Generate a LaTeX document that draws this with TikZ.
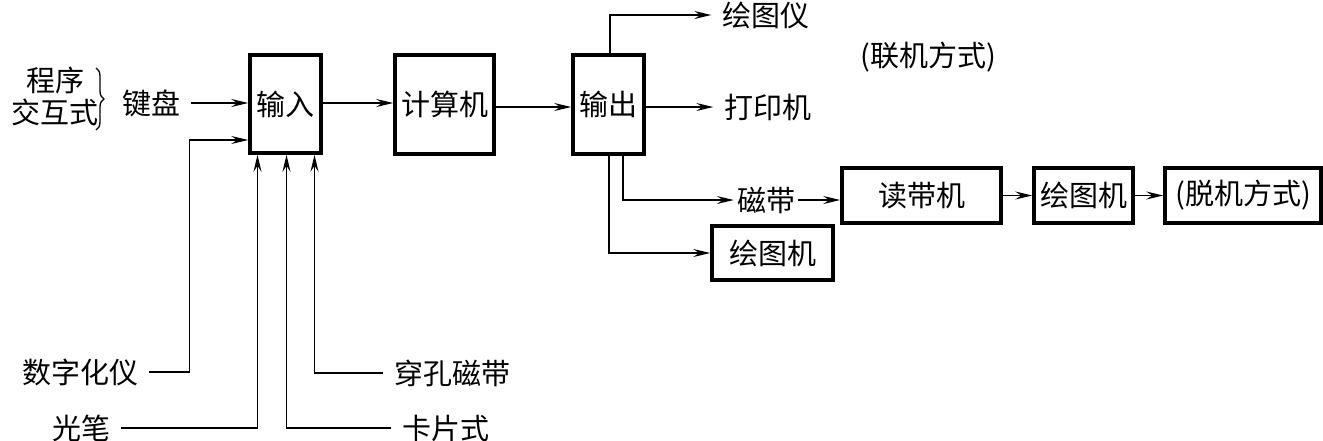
\documentclass[tikz,border=0pt]{standalone}
\usepackage{fontspec}
\setmainfont{Noto Sans CJK SC}
\usetikzlibrary{arrows.meta,decorations.pathreplacing}
\tikzset{
  box/.style={draw,line width=3.5pt,inner sep=0pt,font=\fontsize{29}{32}\selectfont},
  txt/.style={inner xsep=11pt,inner ysep=2pt,font=\fontsize{29}{32}\selectfont},
  arr/.style={line width=1.4pt,-{Stealth[length=17pt,width=8pt,inset=6pt]}},
  ln/.style={line width=1.4pt}
}
\begin{document}
\begin{tikzpicture}[x=1pt,y=-1pt]
\useasboundingbox (0,0) rectangle (1323,440);
% boxes
\node[box,minimum width=71pt,minimum height=98pt] (in) at (285.5,104) {输入};
\node[box,minimum width=99pt,minimum height=99pt] (comp) at (444.5,104.5) {计算机};
\node[box,minimum width=71pt,minimum height=99pt] (out) at (608.5,104.5) {输出};
\node[box,minimum width=121pt,minimum height=54pt] (plotb) at (772.5,253) {绘图机};
\node[box,minimum width=159pt,minimum height=55pt] (reader) at (921.5,195.5) {读带机};
\node[box,minimum width=99pt,minimum height=55pt] (plotc) at (1083.5,195.5) {绘图机};
\node[box,minimum width=156pt,minimum height=55pt] (offline) at (1243,195.5) {(脱机方式)};
% texts
\node[txt] (prog) at (55,80) {程序};
\node[txt] (inter) at (55,112) {交互式};
\node[txt] (kb) at (151,103) {键盘};
\node[txt] (dg) at (80,372) {数字化仪};
\node[txt] (pen) at (81,428) {光笔};
\node[txt] (card) at (446,428) {卡片式};
\node[txt] (punch) at (452,373) {穿孔磁带};
\node[txt] (plt) at (766,15) {绘图仪};
\node[txt] (prn) at (768,107) {打印机};
\node[txt] (online) at (928,57) {(联机方式)};
\node[txt,inner xsep=3pt] (tape) at (766,200) {磁带};
% brace
\draw[decorate,decoration={brace,amplitude=8pt},line width=1.3pt] (96,68) -- (96,130);
% connectors
\draw[arr] (kb.east) -- (kb.east -| in.west);
\draw[arr] (dg.east) -- ++(40,0) |- ([yshift=-36pt]in.west);
\draw[arr] (pen.east) -| ([xshift=-28pt]in.south);
\draw[arr] (card.west) -| ([xshift=1pt]in.south);
\draw[arr] (punch.west) -| ([xshift=29pt]in.south);
\draw[arr] ([yshift=1pt]in.east) -- ([yshift=1pt]in.east -| comp.west);
\draw[arr] ([yshift=-2.5pt]comp.east) -- ([yshift=-2.5pt]comp.east -| out.west);
\draw[arr] ([xshift=1.5pt]out.north) |- (plt.west);
\draw[arr] (out.east |- prn.west) -- (prn.west);
\draw[arr] ([xshift=0.5pt]out.south) |- (plotb.west);
\draw[arr] ([xshift=14.5pt]out.south) |- (tape.west);
\draw[arr] (tape.east) -- (tape.east -| reader.west);
\draw[arr] (reader.east) -- (plotc.west);
\draw[arr] (plotc.east) -- (offline.west);
\end{tikzpicture}
\end{document}
